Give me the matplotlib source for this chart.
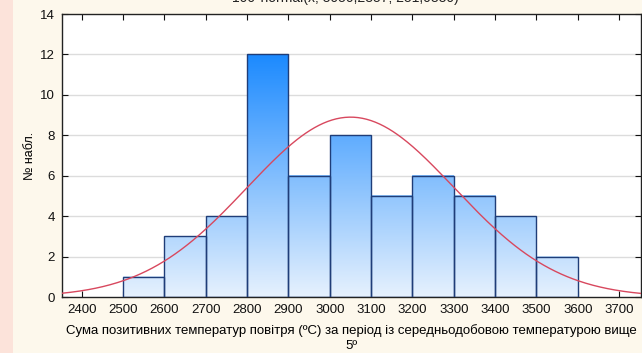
import matplotlib.pyplot as plt
import numpy as np
from matplotlib.patches import Rectangle
from matplotlib.colors import LinearSegmentedColormap

plt.rcParams['font.family'] = ['Liberation Sans', 'DejaVu Sans']

bin_edges = [2500, 2600, 2700, 2800, 2900, 3000, 3100, 3200, 3300, 3400, 3500, 3600]
counts = [1, 3, 4, 12, 6, 8, 5, 6, 5, 4, 2]
fit_mean = 3050.2857
fit_sd = 251.0830
n_obs = sum(counts)
bin_width = 100

xticks = list(range(2400, 3701, 100))
yticks = list(range(0, 15, 2))

fig = plt.figure(figsize=(6.42, 3.53), dpi=100)
fig.patch.set_facecolor('#fdf8ec')
fig.patches.append(Rectangle((0, 0), 13 / 642, 1, transform=fig.transFigure,
                             facecolor='#fce3da', edgecolor='none', zorder=0))

ax = fig.add_axes([62 / 642, 1 - 297 / 353, 579 / 642, 283 / 353])
ax.set_facecolor('white')

# light-to-blue fill, shared scale so taller bars get darker tops
cmap = LinearSegmentedColormap.from_list('bars', ['#e6f1fd', '#1c8aff'])
grad_top = 12
for left, right, h in zip(bin_edges[:-1], bin_edges[1:], counts):
    grad = np.linspace(0, h / grad_top, 200).reshape(-1, 1)
    ax.imshow(grad, cmap=cmap, vmin=0, vmax=1, origin='lower', aspect='auto',
              extent=(left, right, 0, h), zorder=2, interpolation='bilinear')
    ax.add_patch(Rectangle((left, 0), right - left, h, facecolor='none',
                           edgecolor='#1f3d78', linewidth=1.0, zorder=3))
ax.set_xlim(2352, 3753)
ax.set_ylim(0, 14)

x = np.linspace(2352, 3753, 400)
y = n_obs * bin_width * np.exp(-0.5 * ((x - fit_mean) / fit_sd) ** 2) / (fit_sd * np.sqrt(2 * np.pi))
ax.plot(x, y, color='#d8485e', linewidth=1.0, zorder=4)

for yy in yticks[1:-1]:
    ax.axhline(yy, color='#dcdcdc', linewidth=1.0, zorder=1)

ax.set_xticks(xticks)
ax.set_yticks(yticks)
ax.tick_params(direction='in', length=4, width=0.8, top=True, right=True,
               labelsize=9.5, colors='#111111', pad=5)
for s in ax.spines.values():
    s.set_linewidth(1.0)
    s.set_color('#222222')

ax.set_ylabel('№ набл.', fontsize=9, labelpad=3)
ax.set_xlabel('Сума позитивних температур повітря (ºC) за період із середньодобовою температурою вище\n5º',
              fontsize=9.5, labelpad=6, linespacing=1.35)

fig.text(345 / 642, 1 - 5 / 353, '100*normal(x; 3050,2857; 251,0830)',
         ha='center', va='bottom', fontsize=10, color='#222222')

fig.savefig('out.png', dpi=100, facecolor=fig.get_facecolor())
